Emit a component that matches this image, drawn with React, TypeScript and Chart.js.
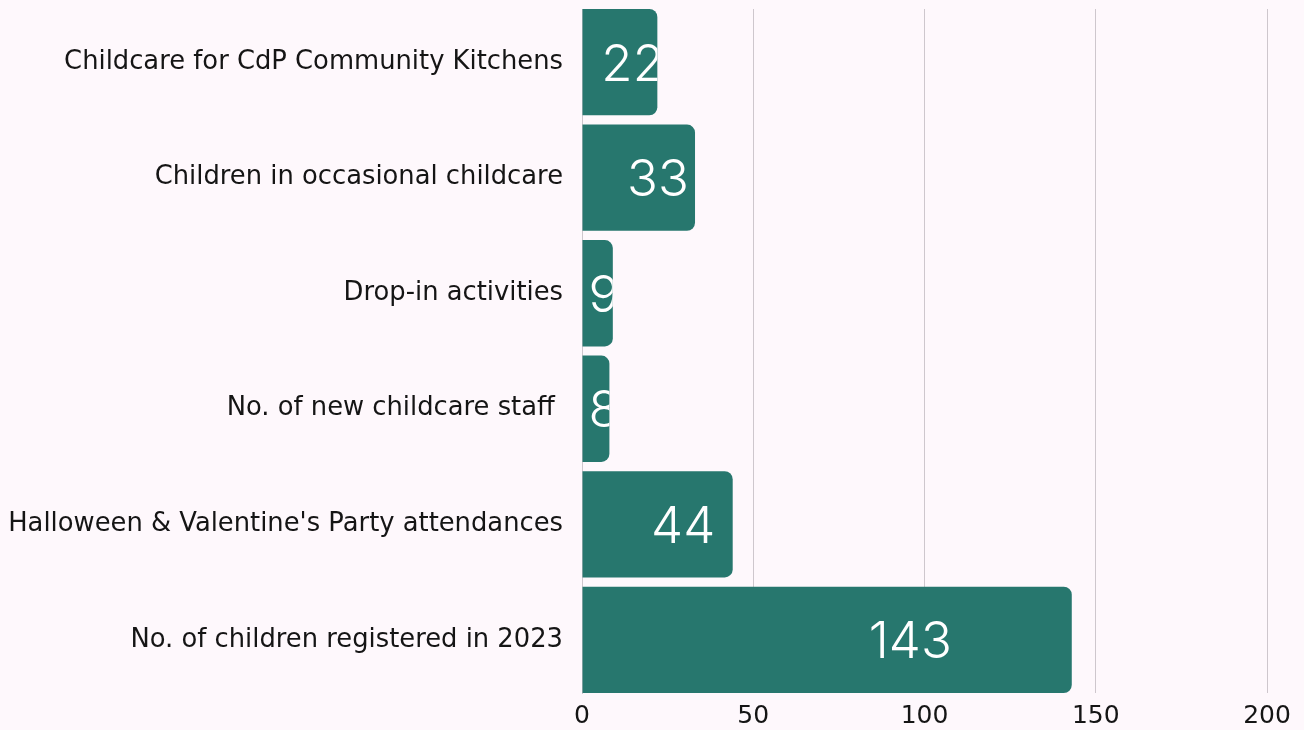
import React, { useEffect, useRef } from "react";
import { Chart, registerables } from "chart.js";

Chart.register(...registerables);

const categories = [
  "Childcare for CdP Community Kitchens",
  "Children in occasional childcare",
  "Drop-in activities",
  "No. of new childcare staff ",
  "Halloween & Valentine's Party attendances",
  "No. of children registered in 2023",
];
const values = [22, 33, 9, 8, 44, 143];
const xTicks = [0, 50, 100, 150, 200];

const BG = "#FEF8FC";
const BAR = "#27776E";
const GRID = "#CEC7CD";
const TEXT = "#151515";
const LABEL_FONT = '"DejaVu Sans", sans-serif';
const NUM_FONT = 'Inter, Lato, sans-serif';

const bgPlugin = {
  id: "bgFill",
  beforeDraw(chart: any) {
    const { ctx, width, height } = chart;
    ctx.save();
    ctx.fillStyle = BG;
    ctx.fillRect(0, 0, width, height);
    ctx.restore();
  },
};

const valueLabels = {
  id: "valueLabels",
  afterDatasetsDraw(chart: any) {
    const ctx = chart.ctx;
    const meta = chart.getDatasetMeta(0);
    meta.data.forEach((bar: any, i: number) => {
      const { x, y, base, height } = bar.getProps(["x", "y", "base", "height"], true);
      const left = Math.min(base, x);
      const right = Math.max(base, x);
      const w = right - left;
      ctx.save();
      ctx.beginPath();
      ctx.rect(left, y - height / 2, w, height);
      ctx.clip();
      ctx.font = `300 51px ${NUM_FONT}`;
      ctx.fillStyle = "#ffffff";
      ctx.textAlign = "center";
      ctx.textBaseline = "alphabetic";
      const text = String(values[i]);
      const m = ctx.measureText(text);
      const tw = m.width;
      const asc = m.actualBoundingBoxAscent || 37;
      let cx = left + w * 0.67;
      cx = Math.max(cx, left + 6 + tw / 2);
      ctx.fillText(text, cx, y + asc / 2);
      ctx.restore();
    });
  },
};

export default function App() {
  const ref = useRef<HTMLCanvasElement | null>(null);

  useEffect(() => {
    document.body.style.margin = "0";
    document.body.style.background = BG;
    const canvas = ref.current;
    if (!canvas) return;
    const chart = new Chart(canvas, {
      type: "bar",
      data: {
        datasets: [
          {
            data: values.map((v, i) => ({ x: v, y: i })) as any,
            backgroundColor: BAR,
            borderWidth: 0,
            borderRadius: 8,
            borderSkipped: "start",
            barPercentage: 0.92,
            categoryPercentage: 1,
          },
        ],
      },
      options: {
        indexAxis: "y",
        animation: false,
        responsive: false,
        events: [],
        layout: { padding: { top: 9, right: 37, bottom: 0, left: 0 } },
        plugins: {
          legend: { display: false },
          tooltip: { enabled: false },
          title: { display: false },
        },
        scales: {
          x: {
            type: "linear",
            position: "bottom",
            min: xTicks[0],
            max: xTicks[xTicks.length - 1],
            afterBuildTicks: (s: any) => {
              s.ticks = xTicks.map((v) => ({ value: v }));
            },
            afterFit: (s: any) => {
              s.height = 37;
            },
            grid: { color: GRID, lineWidth: 1, drawTicks: false },
            border: { display: false },
            ticks: {
              color: TEXT,
              padding: 8,
              font: { family: LABEL_FONT, size: 25 },
            },
          },
          y: {
            type: "linear",
            reverse: true,
            offset: false,
            min: -0.46,
            max: 5.46,
            afterBuildTicks: (s: any) => {
              s.ticks = categories.map((_, i) => ({ value: i }));
            },
            afterFit: (s: any) => {
              s.width = 582;
              s.paddingTop = 0;
              s.paddingBottom = 0;
            },
            grid: { display: false, drawTicks: false },
            border: { display: true, color: GRID, width: 1 },
            ticks: {
              color: TEXT,
              padding: 19,
              font: { family: LABEL_FONT, size: 25.8 },
              callback: (v: any) => categories[Math.round(Number(v))] ?? "",
            },
          },
        },
      } as any,
      plugins: [bgPlugin, valueLabels],
    });
    return () => chart.destroy();
  }, []);

  return (
    <canvas
      ref={ref}
      width={1304}
      height={730}
      style={{ display: "block", width: 1304, height: 730 }}
    />
  );
}
